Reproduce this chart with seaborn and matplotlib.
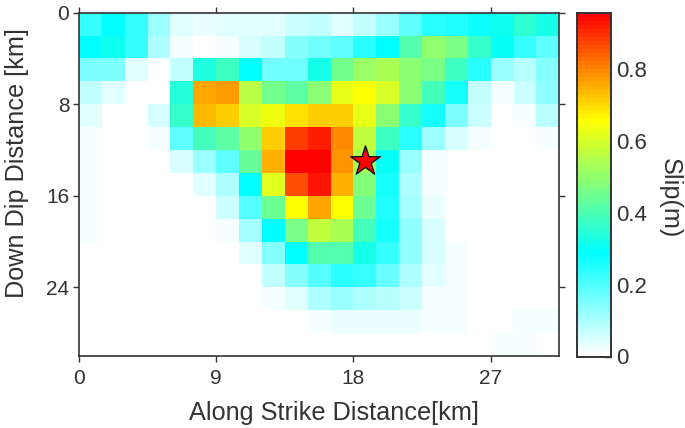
import numpy as np
import matplotlib
matplotlib.use("Agg")
import matplotlib.pyplot as plt
from matplotlib.colors import LinearSegmentedColormap
import seaborn as sns

row00 = [.233,.29,.23,.12,.045,.023,.034,.034,.034,.0625,.07,.04,.075,.12,.19,.24,.25,.28,.31,.36,.32]
row01 = [.29,.31,.23,.10,.02,0,.02,.05,.07,.14,.165,.19,.245,.29,.415,.50,.47,.365,.30,.235,.19]
row02 = [.155,.155,.045,0,.075,.335,.38,.29,.165,.165,.32,.46,.51,.54,.49,.465,.38,.245,.12,.09,.14]
row03 = [.07,.035,0,.01,.34,.76,.775,.56,.46,.42,.495,.62,.655,.60,.495,.39,.27,.075,.015,.06,.135]
row04 = [.035,0,0,.05,.37,.735,.72,.605,.64,.695,.715,.72,.62,.49,.365,.265,.155,.06,0,.015,.09]
row05 = [.015,0,0,.02,.19,.39,.42,.50,.715,.89,.92,.80,.57,.38,.245,.12,.055,.02,0,0,.015]
row06 = [.015,0,0,0,.055,.12,.19,.43,.75,.955,.955,.785,.53,.30,.12,.02,.01,0,0,0,0]
row07 = [.015,0,0,0,0,.035,.10,.29,.61,.86,.93,.75,.48,.27,.10,.015,0,0,0,0,0]
row08 = [.015,0,0,0,0,0,.06,.20,.44,.66,.76,.66,.45,.255,.11,.03,0,0,0,0,0]
row09 = [.015,0,0,0,0,0,.015,.105,.29,.47,.57,.53,.39,.27,.125,.05,0,0,0,0,0]
row10 = [0,0,0,0,0,0,0,.035,.14,.29,.41,.415,.32,.23,.13,.055,.015,0,0,0,0]
row11 = [0,0,0,0,0,0,0,0,.075,.14,.195,.245,.23,.175,.095,.04,.015,0,0,0,0]
row12 = [0,0,0,0,0,0,0,0,.015,.045,.095,.115,.10,.08,.06,.02,.015,0,0,0,0]
row13 = [0,0,0,0,0,0,0,0,0,0,.015,.03,.03,.03,.03,.015,.015,0,0,.015,.015]
row14 = [0,0,0,0,0,0,0,0,0,0,0,0,0,0,0,0,0,.002,.015,.015,.005]
slip_rows = [row00,row01,row02,row03,row04,row05,row06,row07,row08,row09,row10,row11,row12,row13,row14]

x_tick_cells = [0,6,12,18]
x_tick_labels = ["0","9","18","27"]
y_tick_cells = [0,4,8,12]
y_tick_labels = ["0","8","16","24"]
cbar_ticks = [0,.2,.4,.6,.8]
cbar_labels = ["0","0.2","0.4","0.6","0.8"]
cbar_minor = [.1,.3,.5,.7,.9]
hypocenter_cell = (12.5,6.5)
vmax = 0.958

sns.set_theme(style="white")
plt.rcParams['font.family'] = ['Liberation Sans','DejaVu Sans']
INK = "#333333"

W,H = 685,428
fig = plt.figure(figsize=(W/100,H/100),dpi=100)
ax = fig.add_axes([79/W,1-356/H,480.3/W,343.3/H])
cax = fig.add_axes([577/W,1-356.5/H,34/W,343.8/H])

cmap = LinearSegmentedColormap.from_list("slip",[(0,"#ffffff"),(.30,"#00ffff"),(.69,"#ffff00"),(1,"#ff0000")],N=85)
sns.heatmap(np.array(slip_rows),ax=ax,cbar_ax=cax,cmap=cmap,vmin=0,vmax=vmax,
            xticklabels=False,yticklabels=False,square=False,
            cbar_kws={"ticks":cbar_ticks})
ax.scatter([hypocenter_cell[0]],[hypocenter_cell[1]],marker="*",s=500,c="#ff0000",
           edgecolors="#111111",linewidths=1.0,zorder=5)

ax.set_xticks(x_tick_cells,x_tick_labels)
ax.set_yticks(y_tick_cells,y_tick_labels)
ax.tick_params(axis="both",which="major",top=True,right=True,bottom=True,left=True,
               direction="out",length=4,width=1,color=INK,labelcolor=INK,labelsize=15,pad=3)
ax.tick_params(axis="x",pad=5)
for s in ax.spines.values():
    s.set_visible(True); s.set_color(INK); s.set_linewidth(1.2)
ax.set_xlabel("Along Strike Distance[km]",fontsize=18.2,color=INK,labelpad=10,x=0.53)
ax.set_ylabel("Down Dip Distance [km]",fontsize=18.2,color=INK,labelpad=12,y=0.561)

cax.set_yticks(cbar_ticks,cbar_labels)
cax.set_yticks(cbar_minor,minor=True)
cax.tick_params(axis="y",which="major",direction="in",right=True,left=False,length=4,width=1,
                color=INK,labelcolor=INK,labelsize=16,pad=4)
cax.tick_params(axis="y",which="minor",direction="in",right=True,left=False,length=3,width=1,color=INK)
for s in cax.spines.values():
    s.set_visible(True); s.set_color(INK); s.set_linewidth(1.2)
cax.set_ylabel("Slip(m)",fontsize=18.2,color=INK,rotation=270,labelpad=25,y=0.46)
cax.yaxis.set_label_position("right")

fig.savefig("out.png",dpi=100,facecolor="white")
